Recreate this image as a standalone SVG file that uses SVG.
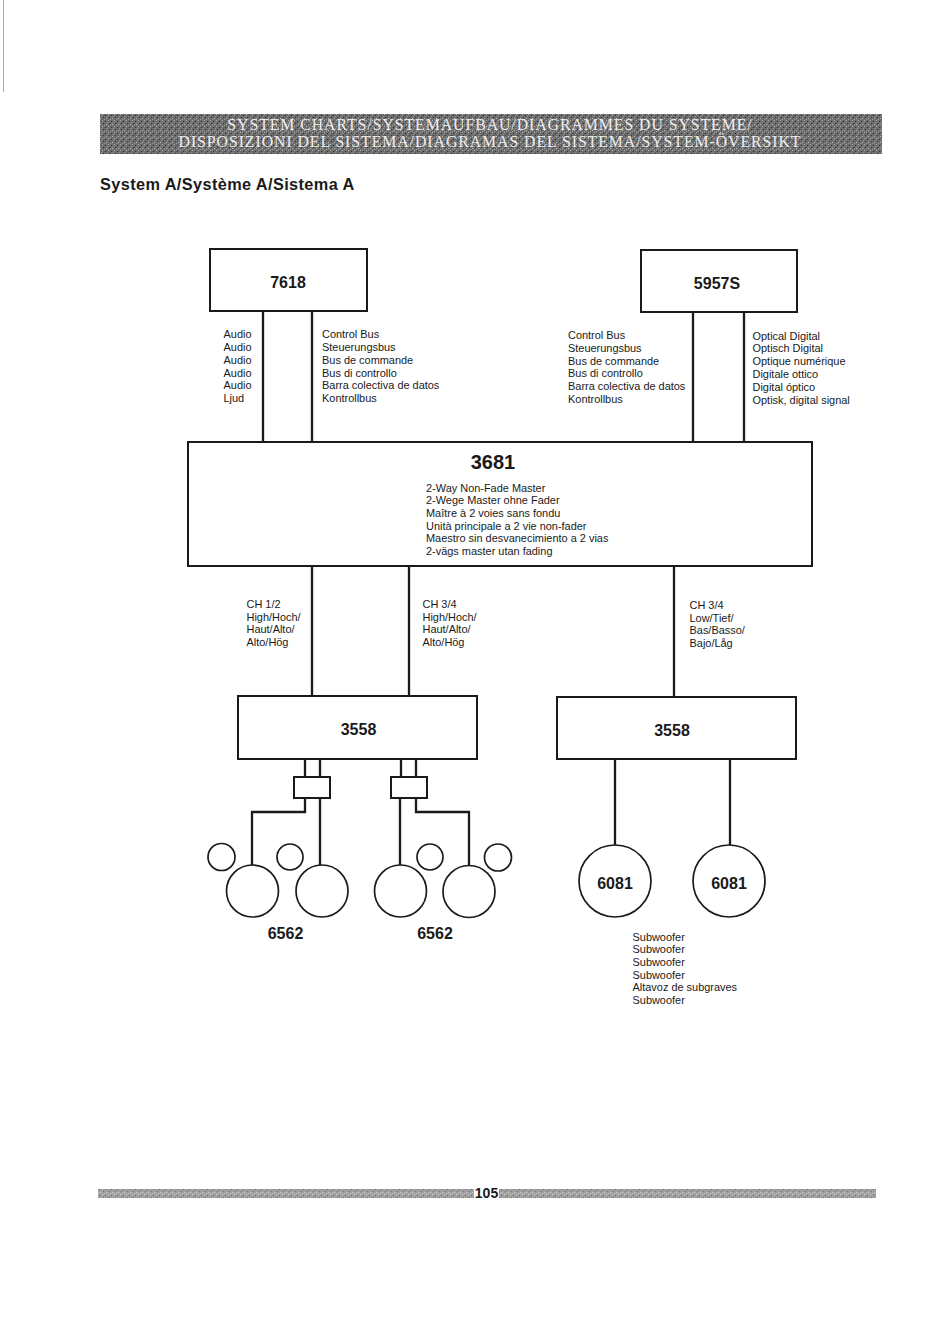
<svg xmlns="http://www.w3.org/2000/svg" width="950" height="1328" viewBox="0 0 950 1328">
<defs>
<pattern id="noise" width="6" height="6" patternUnits="userSpaceOnUse">
<rect width="6" height="6" fill="#6c6c6c"/>
<rect x="0" y="0" width="1" height="1" fill="#b4b4b4"/><rect x="3" y="1" width="1" height="1" fill="#333"/><rect x="1" y="3" width="1" height="1" fill="#363636"/><rect x="4" y="4" width="1" height="1" fill="#bcbcbc"/><rect x="2" y="5" width="1" height="1" fill="#a0a0a0"/><rect x="5" y="2" width="1" height="1" fill="#989898"/>
</pattern>
<pattern id="noise2" width="6" height="6" patternUnits="userSpaceOnUse">
<rect width="6" height="6" fill="#a0a0a0"/>
<rect x="0" y="0" width="1" height="1" fill="#dcdcdc"/><rect x="3" y="1" width="1" height="1" fill="#6a6a6a"/><rect x="1" y="3" width="1" height="1" fill="#707070"/><rect x="4" y="4" width="1" height="1" fill="#d8d8d8"/><rect x="2" y="5" width="1" height="1" fill="#c8c8c8"/>
</pattern>
</defs>
<style>
.box{fill:#fff;stroke:#1a1a1a;stroke-width:2}
.w{fill:none;stroke:#1a1a1a;stroke-width:2.3}
.c{fill:#fff;stroke:#1a1a1a;stroke-width:1.7}
text{font-family:"Liberation Sans",Arial,sans-serif;fill:#1a1a1a}
.s{font-size:10.95px}
.n{font-size:16px;font-weight:bold}
.h{font-family:"Liberation Serif","Times New Roman",serif;font-size:15.8px;fill:#eee;text-anchor:middle;letter-spacing:.95px}
</style>
<rect width="950" height="1328" fill="#fff"/>
<path d="M3.500 0V92" stroke="#aaa" stroke-width="1" fill="none"/>
<g id="header">
<rect x="100" y="114" width="782" height="40" fill="url(#noise)"/>
<text class="h" x="490" y="130">SYSTEM CHARTS/SYSTEMAUFBAU/DIAGRAMMES DU SYSTEME/</text>
<text class="h" x="490" y="147">DISPOSIZIONI DEL SISTEMA/DIAGRAMAS DEL SISTEMA/SYSTEM-ÖVERSIKT</text>
</g>
<text id="title" x="100" y="190" font-size="16.3" font-weight="bold" letter-spacing=".4">System A/Système A/Sistema A</text>
<g id="connectors">
<path class="w" d="M263 312V441M312 312V441M693 313V441M744 313V441M312 566V695M409 566V695M674 566V696"/>
<path class="w" d="M305 759V777M320 759V777M401 759V777M416 759V777"/>
<path class="w" d="M305 799V812H252V865M320 799V865M400 799V865M416 799V812H469V866"/>
<path class="w" d="M615 759V845M730 759V845"/>
</g>
<g id="n7618"><rect class="box" x="210" y="249" width="157" height="62"/><text class="n" x="288" y="288" text-anchor="middle">7618</text></g>
<g id="n5957S"><rect class="box" x="641" y="250" width="156" height="62"/><text class="n" x="717" y="289" text-anchor="middle">5957S</text></g>
<g id="n3681"><rect class="box" x="188" y="442" width="624" height="124"/>
<text x="493" y="469" text-anchor="middle" font-size="20" font-weight="bold">3681</text>
<text class="s"><tspan x="426" y="491.500">2-Way Non-Fade Master</tspan><tspan x="426" y="504.300">2-Wege Master ohne Fader</tspan><tspan x="426" y="517">Maître à 2 voies sans fondu</tspan><tspan x="426" y="529.500">Unità principale a 2 vie non-fader</tspan><tspan x="426" y="542.300">Maestro sin desvanecimiento a 2 vias</tspan><tspan x="426" y="555">2-vägs master utan fading</tspan></text></g>
<g id="labels-top">
<text class="s"><tspan x="223.500" y="338">Audio</tspan><tspan x="223.500" y="351">Audio</tspan><tspan x="223.500" y="364">Audio</tspan><tspan x="223.500" y="376.500">Audio</tspan><tspan x="223.500" y="389">Audio</tspan><tspan x="223.500" y="402">Ljud</tspan></text>
<text class="s"><tspan x="322" y="338">Control Bus</tspan><tspan x="322" y="351">Steuerungsbus</tspan><tspan x="322" y="364">Bus de commande</tspan><tspan x="322" y="376.500">Bus di controllo</tspan><tspan x="322" y="389">Barra colectiva de datos</tspan><tspan x="322" y="402">Kontrollbus</tspan></text>
<text class="s"><tspan x="568" y="339">Control Bus</tspan><tspan x="568" y="352">Steuerungsbus</tspan><tspan x="568" y="364.500">Bus de commande</tspan><tspan x="568" y="377">Bus di controllo</tspan><tspan x="568" y="390">Barra colectiva de datos</tspan><tspan x="568" y="403">Kontrollbus</tspan></text>
<text class="s"><tspan x="752.500" y="339.500">Optical Digital</tspan><tspan x="752.500" y="352">Optisch Digital</tspan><tspan x="752.500" y="365">Optique numérique</tspan><tspan x="752.500" y="378">Digitale ottico</tspan><tspan x="752.500" y="391">Digital óptico</tspan><tspan x="752.500" y="403.500">Optisk, digital signal</tspan></text>
</g>
<g id="labels-mid">
<text class="s"><tspan x="246.500" y="607.500">CH 1/2</tspan><tspan x="246.500" y="620.500">High/Hoch/</tspan><tspan x="246.500" y="633">Haut/Alto/</tspan><tspan x="246.500" y="645.500">Alto/Hög</tspan></text>
<text class="s"><tspan x="422.500" y="607.500">CH 3/4</tspan><tspan x="422.500" y="620.500">High/Hoch/</tspan><tspan x="422.500" y="633">Haut/Alto/</tspan><tspan x="422.500" y="645.500">Alto/Hög</tspan></text>
<text class="s"><tspan x="689.500" y="608.500">CH 3/4</tspan><tspan x="689.500" y="621.500">Low/Tief/</tspan><tspan x="689.500" y="634">Bas/Basso/</tspan><tspan x="689.500" y="646.500">Bajo/Låg</tspan></text>
</g>
<g id="amp1"><rect class="box" x="238" y="696" width="239" height="63"/><text class="n" x="358.500" y="734.500" text-anchor="middle">3558</text></g>
<g id="amp2"><rect class="box" x="557" y="697" width="239" height="62"/><text class="n" x="672" y="735.500" text-anchor="middle">3558</text></g>
<g id="x1"><rect class="box" x="294" y="777" width="36" height="21"/></g>
<g id="x2"><rect class="box" x="391" y="777" width="36" height="21"/></g>
<g id="sp1"><circle class="c" cx="221.500" cy="857" r="13.500"/><circle class="c" cx="252.500" cy="891" r="26"/></g>
<g id="sp2"><circle class="c" cx="290" cy="857" r="13"/><circle class="c" cx="322" cy="891" r="26"/></g>
<g id="sp3"><circle class="c" cx="430" cy="857" r="13"/><circle class="c" cx="400.500" cy="891" r="26"/></g>
<g id="sp4"><circle class="c" cx="498" cy="857.500" r="13.500"/><circle class="c" cx="469" cy="891.500" r="26"/></g>
<text class="n" x="285.500" y="938.500" text-anchor="middle">6562</text>
<text class="n" x="435" y="938.500" text-anchor="middle">6562</text>
<g id="sub1"><circle class="c" cx="615" cy="881" r="36"/><text class="n" x="615" y="888.500" text-anchor="middle">6081</text></g>
<g id="sub2"><circle class="c" cx="729" cy="881" r="36"/><text class="n" x="729" y="888.500" text-anchor="middle">6081</text></g>
<text class="s"><tspan x="632.500" y="940.500">Subwoofer</tspan><tspan x="632.500" y="953">Subwoofer</tspan><tspan x="632.500" y="965.500">Subwoofer</tspan><tspan x="632.500" y="978.500">Subwoofer</tspan><tspan x="632.500" y="991">Altavoz de subgraves</tspan><tspan x="632.500" y="1003.500">Subwoofer</tspan></text>
<g id="footer">
<rect x="98" y="1189" width="778" height="9" fill="url(#noise2)"/>
<rect x="474" y="1187" width="25" height="13" fill="#fff"/>
<text x="486.500" y="1198" text-anchor="middle" font-size="14" font-weight="bold">105</text>
</g>
</svg>
